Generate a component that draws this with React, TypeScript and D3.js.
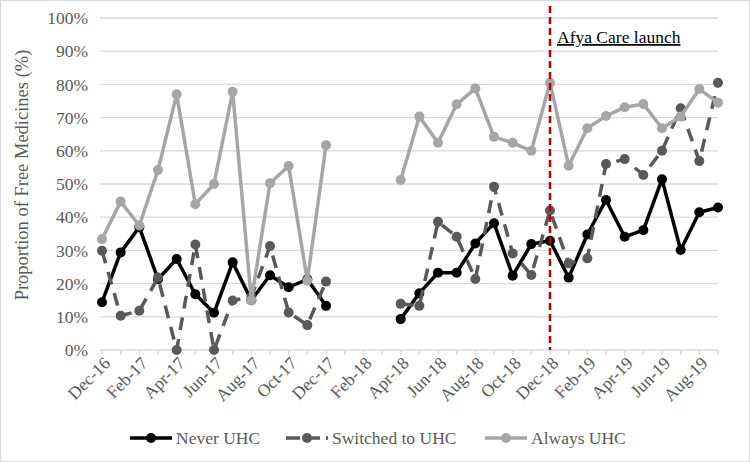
import React from "react";
import * as d3 from "d3";

const months = [
  "Dec-16","Jan-17","Feb-17","Mar-17","Apr-17","May-17","Jun-17","Jul-17","Aug-17","Sep-17","Oct-17","Nov-17","Dec-17",
  "Jan-18","Feb-18","Mar-18","Apr-18","May-18","Jun-18","Jul-18","Aug-18","Sep-18","Oct-18","Nov-18","Dec-18",
  "Jan-19","Feb-19","Mar-19","Apr-19","May-19","Jun-19","Jul-19","Aug-19","Sep-19",
];

const neverUHC: (number | null)[] = [
  14.4, 29.4, 37, 21.3, 27.4, 16.8, 11.2, 26.4, 15, 22.5, 18.9, 21.3, 13.3,
  null, null, null,
  9.3, 17.1, 23.3, 23.3, 32.1, 38.2, 22.4, 31.9, 32.9,
  21.8, 34.8, 45.2, 34.1, 36.1, 51.4, 30.1, 41.5, 42.9,
];

const switchedUHC: (number | null)[] = [
  29.9, 10.3, 11.8, 21.8, 0, 31.8, 0, 14.9, 16, 31.3, 11.3, 7.5, 20.6,
  null, null, null,
  13.9, 13.3, 38.6, 34.1, 21.4, 49.2, 29.1, 22.6, 42,
  26.1, 27.6, 56, 57.5, 52.7, 60, 72.8, 56.9, 80.5,
];

const alwaysUHC: (number | null)[] = [
  33.4, 44.7, 37.5, 54.2, 77, 43.9, 50, 77.8, 15, 50.2, 55.4, 20.9, 61.7,
  null, null, null,
  51.2, 70.3, 62.4, 74, 78.8, 64.2, 62.4, 60, 80.5,
  55.5, 66.8, 70.5, 73.1, 74.1, 66.8, 70.3, 78.6, 74.5,
];

const yTicks = [0, 10, 20, 30, 40, 50, 60, 70, 80, 90, 100];
const launchMonth = "Dec-18";
const launchLabel = "Afya Care launch";
const yTitle = "Proportion of Free Medicines (%)";

const seriesList = [
  { name: "Never UHC", values: neverUHC, color: "#000000", dash: "" },
  { name: "Switched to UHC", values: switchedUHC, color: "#595959", dash: "13,9" },
  { name: "Always UHC", values: alwaysUHC, color: "#a6a6a6", dash: "" },
];

export default function App() {
  const W = 750, H = 462;
  const x = d3.scalePoint<string>().domain(months).range([102, 718]);
  const y = d3.scaleLinear().domain([0, 100]).range([350, 18]);
  const font = "'Liberation Serif', 'Times New Roman', serif";
  const fs = 17.5;
  const line = d3
    .line<number | null>()
    .defined((d) => d !== null)
    .x((_, i) => x(months[i]) as number)
    .y((d) => y(d as number));

  const legendItems = [
    { ...seriesList[0], lx: 130, tx: 176 },
    { ...seriesList[1], lx: 286, tx: 332 },
    { ...seriesList[2], lx: 485, tx: 531 },
  ];
  const xl = x(launchMonth) as number;

  return (
    <svg width={W} height={H} style={{ position: "absolute", left: 0, top: 0 }}>
      <rect x={0.5} y={0.5} width={W - 1} height={H - 1} fill="#fff" stroke="#d9d9d9" />
      {yTicks.map((t) => (
        <g key={t}>
          {t > 0 && (
            <line x1={100} x2={718} y1={y(t)} y2={y(t)} stroke="#d9d9d9" strokeWidth={1.3} />
          )}
          <text x={88} y={y(t)} dy="0.35em" textAnchor="end" fontFamily={font} fontSize={fs} fill="#595959">
            {t}%
          </text>
        </g>
      ))}
      <line x1={100} x2={718} y1={y(0)} y2={y(0)} stroke="#d9d9d9" strokeWidth={1.3} />
      {months.map((m, i) => (
        <g key={m}>
          <line x1={x(m)} x2={x(m)} y1={y(0)} y2={y(0) + 5} stroke="#d9d9d9" strokeWidth={1.3} />
          {i % 2 === 0 && (
            <text
              transform={`translate(${(x(m) as number) + 5},${y(0) + 10}) rotate(-45)`}
              textAnchor="end"
              dy="0.35em"
              fontFamily={font}
              fontSize={fs}
              fill="#595959"
            >
              {m}
            </text>
          )}
        </g>
      ))}
      <text
        transform={`translate(22,${(y(0) + y(100)) / 2 - 9}) rotate(-90)`}
        textAnchor="middle"
        dy="0.35em"
        fontFamily={font}
        fontSize={18.5}
        fill="#595959"
      >
        {yTitle}
      </text>
      {seriesList.map((s) => (
        <g key={s.name}>
          <path
            d={line(s.values) || ""}
            fill="none"
            stroke={s.color}
            strokeWidth={3.5}
            strokeDasharray={s.dash || undefined}
            strokeLinejoin="round"
          />
          {s.values.map((v, i) =>
            v === null ? null : (
              <circle key={i} cx={x(months[i])} cy={y(v)} r={5} fill={s.color} />
            )
          )}
        </g>
      ))}
      <line x1={xl} x2={xl} y1={6} y2={y(0)} stroke="#c00000" strokeWidth={2.5} strokeDasharray="7,4" />
      <text x={557} y={43} fontFamily={font} fontSize={fs} fill="#000" textDecoration="underline">
        {launchLabel}
      </text>
      {legendItems.map((it) => (
        <g key={it.name}>
          <line
            x1={it.lx}
            x2={it.lx + 42}
            y1={438}
            y2={438}
            stroke={it.color}
            strokeWidth={3.5}
            strokeDasharray={it.dash ? "14,6" : undefined}
          />
          <circle cx={it.lx + 21} cy={438} r={5} fill={it.color} />
          <text x={it.tx} y={438} dy="0.35em" fontFamily={font} fontSize={fs} fill="#595959">
            {it.name}
          </text>
        </g>
      ))}
    </svg>
  );
}
